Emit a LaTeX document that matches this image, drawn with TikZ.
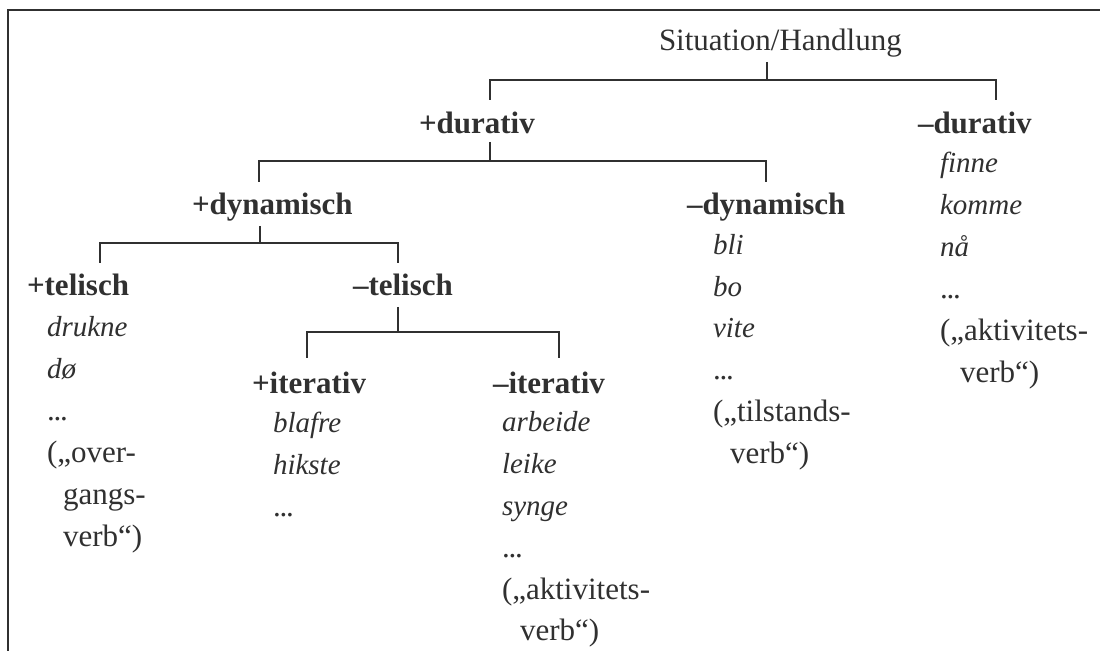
\documentclass[tikz,border=0pt]{standalone}
\usepackage{fontspec}
\setmainfont{Liberation Serif}
\definecolor{ink}{HTML}{303030}
\newcommand{\tdots}{.\kern-0.04em.\kern-0.04em.}
\begin{document}
\begin{tikzpicture}[x=0.5pt,y=-0.5pt,
  every node/.style={inner sep=0pt, outer sep=0pt, text=ink},
  hd/.style={anchor=mid west, font=\fontsize{15.5pt}{18pt}\selectfont\bfseries},
  rt/.style={anchor=mid west, font=\fontsize{15.5pt}{18pt}\selectfont},
  it/.style={anchor=mid west, font=\fontsize{14.5pt}{18pt}\selectfont\itshape},
  conn/.style={draw=ink, line width=0.75pt}]
\useasboundingbox (0,0) rectangle (1100,651);
% frame
\coordinate (fTR) at (1100,10);
\coordinate (fTL) at (8,10);
\coordinate (fBL) at (8,651);
\draw[conn] (fTR) -- (fTL) -- (fBL);

% headers
\node[rt] (root) at (659,46) {Situation/Handlung};
\node[hd] (durp) at (419,129) {+durativ};
\node[hd] (durm) at (918,129) {–durativ};
\node[hd] (dynp) at (192,210) {+dynamisch};
\node[hd] (dynm) at (687,210) {–dynamisch};
\node[hd] (telp) at (27,291) {+telisch};
\node[hd] (telm) at (353,291) {–telisch};
\node[hd] (itp) at (252,389) {+iterativ};
\node[hd] (itm) at (493,389) {–iterativ};

% +telisch items
\node[it] (tp1) at (47,332) {drukne};
\node[it] (tp2) at (47,374) {dø};
\node[rt] (tp3) at (47,416) {\tdots};
\node[rt] (tp4) at (47,458) {(„over-};
\node[rt] (tp5) at (63,500) {gangs-};
\node[rt] (tp6) at (63,542) {verb“)};

% +iterativ items
\node[it] (ip1) at (273,428) {blafre};
\node[it] (ip2) at (273,470) {hikste};
\node[rt] (ip3) at (273,512) {\tdots};

% -iterativ items
\node[it] (im1) at (502,427) {arbeide};
\node[it] (im2) at (502,469) {leike};
\node[it] (im3) at (502,511) {synge};
\node[rt] (im4) at (502,553) {\tdots};
\node[rt] (im5) at (502,595) {(„aktivitets-};
\node[rt] (im6) at (520,636) {verb“)};

% -dynamisch items
\node[it] (dm1) at (713,250) {bli};
\node[it] (dm2) at (713,292) {bo};
\node[it] (dm3) at (713,333) {vite};
\node[rt] (dm4) at (713,375) {\tdots};
\node[rt] (dm5) at (713,417) {(„tilstands-};
\node[rt] (dm6) at (730,459) {verb“)};

% -durativ items
\node[it] (du1) at (940,168) {finne};
\node[it] (du2) at (940,210) {komme};
\node[it] (du3) at (940,252) {nå};
\node[rt] (du4) at (940,294) {\tdots};
\node[rt] (du5) at (940,336) {(„aktivitets-};
\node[rt] (du6) at (960,378) {verb“)};

% connectors
\coordinate (a0) at (767,62);
\coordinate (a1) at (767,80);
\coordinate (aL) at (490,100);
\coordinate (aR) at (996,100);
\draw[conn] (a0) -- (a1);
\draw[conn] (aL) |- (a1) -| (aR);

\coordinate (b0) at (490,142);
\coordinate (b1) at (490,161);
\coordinate (bL) at (259,182);
\coordinate (bR) at (766,182);
\draw[conn] (b0) -- (b1);
\draw[conn] (bL) |- (b1) -| (bR);

\coordinate (c0) at (260,226);
\coordinate (c1) at (260,243);
\coordinate (cL) at (100,263);
\coordinate (cR) at (398,263);
\draw[conn] (c0) -- (c1);
\draw[conn] (cL) |- (c1) -| (cR);

\coordinate (d0) at (398,307);
\coordinate (d1) at (398,332);
\coordinate (dL) at (307,358);
\coordinate (dR) at (559,358);
\draw[conn] (d0) -- (d1);
\draw[conn] (dL) |- (d1) -| (dR);
\end{tikzpicture}
\end{document}
